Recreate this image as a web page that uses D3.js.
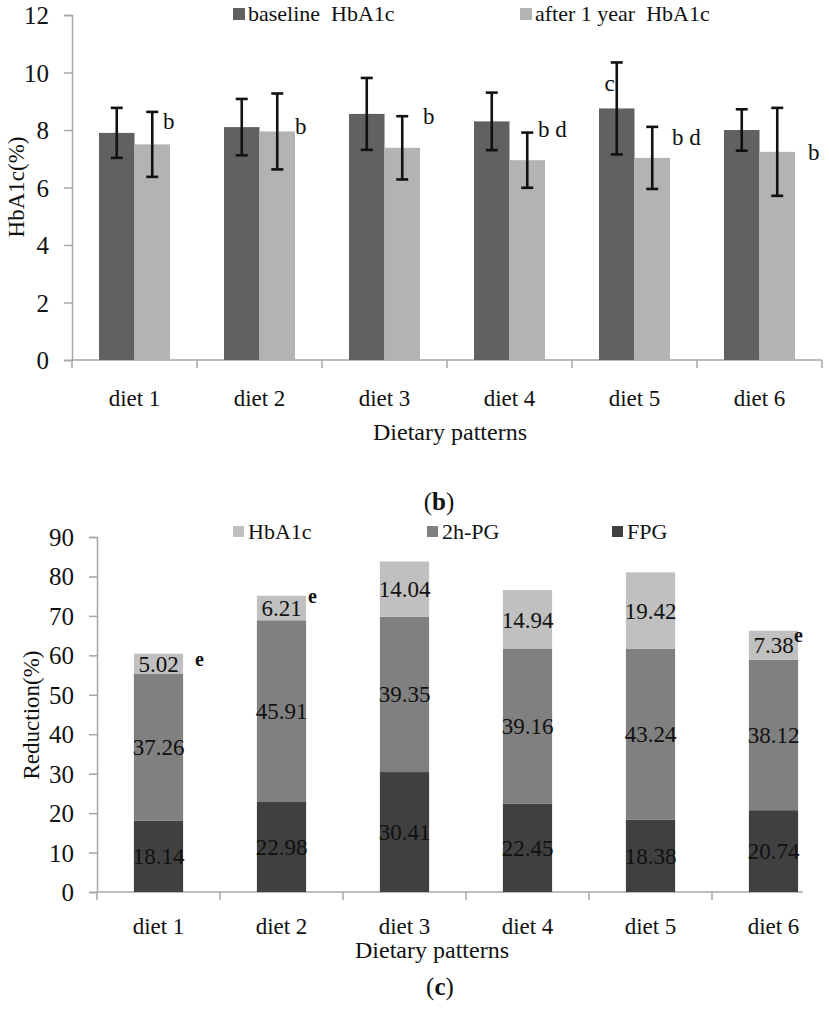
<!DOCTYPE html>
<html>
<head>
<meta charset="utf-8">
<script src="https://cdn.jsdelivr.net/npm/d3@7"></script>
<style>
  body { margin: 0; background: #fff; }
  text { font-family: "Liberation Serif", "Times New Roman", serif; fill: #111; white-space: pre; }
</style>
</head>
<body>
<div class="canvas"></div>
<script>
// ---- data (b): HbA1c before / after ----
const diets = ['diet 1', 'diet 2', 'diet 3', 'diet 4', 'diet 5', 'diet 6']
const baseline = [7.9, 8.1, 8.56, 8.3, 8.75, 8.0]
const baselineSd = [0.87, 0.98, 1.25, 1.0, 1.6, 0.72]
const afterYear = [7.5, 7.95, 7.38, 6.95, 7.03, 7.24]
const afterSd = [1.13, 1.32, 1.1, 0.96, 1.08, 1.53]
const afterMarks = ['b', 'b', 'b', 'b d', 'b d', 'b']
const afterMarkY = [8.28, 8.1, 8.45, 8.0, 7.75, 7.2]
const baselineMarks = ['', '', '', '', 'c', '']
const baselineMarkY = [0, 0, 0, 0, 9.6, 0]
const hbTicks = [0, 2, 4, 6, 8, 10, 12]

// ---- data (c): reduction stacks ----
const fpg = [18.14, 22.98, 30.41, 22.45, 18.38, 20.74]
const pg2h = [37.26, 45.91, 39.35, 39.16, 43.24, 38.12]
const hba1c = [5.02, 6.21, 14.04, 14.94, 19.42, 7.38]
const reductionMarks = ['e', 'e', '', '', '', 'e']
const redTicks = [0, 10, 20, 30, 40, 50, 60, 70, 80, 90]

const font = '"Liberation Serif", "Times New Roman", serif'
const axisGray = '#a6a6a6'

const svg = d3.select('.canvas')
  .append('svg')
  .attr('width', 829)
  .attr('height', 1024)

// small helper for category boundary ticks + baseline line
const drawCategoryAxis = (g, x, y0, xEnd, labelY) => {
  g.append('line')
    .attr('x1', x.range()[0]).attr('x2', xEnd)
    .attr('y1', y0).attr('y2', y0)
    .attr('stroke', axisGray).attr('stroke-width', 1.5)

  const bounds = diets.map(d => x(d)).concat([x.range()[1]]).filter(v => v <= xEnd + 1)
  g.selectAll('line.ctick')
    .data(bounds)
    .enter().append('line')
      .attr('class', 'ctick')
      .attr('x1', d => d).attr('x2', d => d)
      .attr('y1', y0).attr('y2', y0 + 8)
      .attr('stroke', axisGray).attr('stroke-width', 1.5)

  g.selectAll('text.clabel')
    .data(diets)
    .enter().append('text')
      .attr('class', 'clabel')
      .attr('x', d => x(d) + x.bandwidth() / 2)
      .attr('y', labelY)
      .attr('text-anchor', 'middle')
      .attr('font-size', 23)
      .text(d => d)
}

const drawValueAxis = (g, y, ticks, x0) => {
  const axis = d3.axisLeft(y)
    .tickValues(ticks)
    .tickSize(8)
    .tickPadding(15)
    .tickFormat(d3.format('d'))
  const a = g.append('g')
    .attr('transform', `translate(${x0}, 0)`)
    .call(axis)
  a.select('.domain').attr('stroke', axisGray).attr('stroke-width', 1.5)
  a.selectAll('.tick line').attr('stroke', axisGray).attr('stroke-width', 1.5)
  a.selectAll('.tick text')
    .attr('font-family', font)
    .attr('font-size', 25)
    .attr('fill', '#111')
    .attr('dy', '0.34em')
}

// ================= chart (b) =================
const chartB = svg.append('g')

const xB = d3.scaleBand().domain(diets).range([72, 822]).padding(0)
const yB = d3.scaleLinear().domain([0, 12]).range([360, 15])
const barW = xB.bandwidth() * 0.284

drawValueAxis(chartB, yB, hbTicks, 72)
drawCategoryAxis(chartB, xB, 360, 822, 406)

const seriesB = [
  { name: 'baseline  HbA1c', vals: baseline, sd: baselineSd, color: '#616161', off: -1 },
  { name: 'after 1 year  HbA1c', vals: afterYear, sd: afterSd, color: '#b3b3b3', off: 0 }
]

seriesB.forEach(s => {
  const cx = i => xB(diets[i]) + xB.bandwidth() / 2 + s.off * barW
  chartB.selectAll(null)
    .data(s.vals)
    .enter().append('rect')
      .attr('x', (d, i) => cx(i))
      .attr('y', d => yB(d))
      .attr('width', barW)
      .attr('height', d => yB(0) - yB(d))
      .attr('fill', s.color)

  // error bars
  const eb = chartB.selectAll(null)
    .data(s.vals)
    .enter().append('g')
      .attr('stroke', '#111')
      .attr('stroke-width', 2.6)
  eb.append('line')
    .attr('x1', (d, i) => cx(i) + barW / 2).attr('x2', (d, i) => cx(i) + barW / 2)
    .attr('y1', (d, i) => yB(d + s.sd[i])).attr('y2', (d, i) => yB(d - s.sd[i]))
  ;[1, -1].forEach(sign => {
    eb.append('line')
      .attr('x1', (d, i) => cx(i) + barW / 2 - 6).attr('x2', (d, i) => cx(i) + barW / 2 + 6)
      .attr('y1', (d, i) => yB(d + sign * s.sd[i])).attr('y2', (d, i) => yB(d + sign * s.sd[i]))
  })
})

// significance letters
const afterDx = [-7, 0, 3, -7, 2, 13]
chartB.selectAll(null)
  .data(afterMarks)
  .enter().append('text')
    .attr('x', (d, i) => xB(diets[i]) + xB.bandwidth() / 2 + barW + afterDx[i])
    .attr('y', (d, i) => yB(afterMarkY[i]))
    .attr('dy', '0.32em')
    .attr('font-size', 23)
    .text(d => d)

chartB.selectAll(null)
  .data(baselineMarks)
  .enter().append('text')
    .attr('x', (d, i) => xB(diets[i]) + xB.bandwidth() / 2 - barW / 2 - 2)
    .attr('y', (d, i) => yB(baselineMarkY[i]))
    .attr('dy', '0.32em')
    .attr('text-anchor', 'end')
    .attr('font-size', 23)
    .text(d => d)

// legend (b)
const legB = chartB.selectAll('g.leg')
  .data(seriesB)
  .enter().append('g')
    .attr('class', 'leg')
    .attr('transform', (d, i) => `translate(${i === 0 ? 233 : 520}, 8)`)
legB.append('rect').attr('width', 12).attr('height', 12).attr('fill', d => d.color)
legB.append('text').attr('x', 15).attr('y', 13).attr('font-size', 22).text(d => d.name)

chartB.append('text')
  .attr('transform', 'translate(24, 187) rotate(-90)')
  .attr('text-anchor', 'middle')
  .attr('font-size', 23)
  .text('HbA1c(%)')

chartB.append('text')
  .attr('x', 450).attr('y', 440)
  .attr('text-anchor', 'middle')
  .attr('font-size', 24)
  .text('Dietary patterns')

const capB = chartB.append('text').attr('x', 439).attr('y', 510).attr('text-anchor', 'middle').attr('font-size', 25)
capB.append('tspan').text('(')
capB.append('tspan').attr('font-weight', 'bold').text('b')
capB.append('tspan').text(')')

// ================= chart (c) =================
const chartC = svg.append('g')

const xC = d3.scaleBand().domain(diets).range([97, 835]).padding(0)
const yC = d3.scaleLinear().domain([0, 90]).range([892, 537])
const barC = xC.bandwidth() * 0.4

drawValueAxis(chartC, yC, redTicks, 97)
drawCategoryAxis(chartC, xC, 892, 803, 934)

const keys = ['FPG', '2h-PG', 'HbA1c']
const colorC = d3.scaleOrdinal().domain(keys).range(['#404040', '#808080', '#c0c0c0'])
const table = diets.map((d, i) => ({ diet: d, 'FPG': fpg[i], '2h-PG': pg2h[i], 'HbA1c': hba1c[i] }))
const stacked = d3.stack().keys(keys)(table)

const layers = chartC.selectAll('g.layer')
  .data(stacked)
  .enter().append('g')
    .attr('class', 'layer')
    .attr('fill', d => colorC(d.key))

layers.selectAll('rect')
  .data(d => d)
  .enter().append('rect')
    .attr('x', d => xC(d.data.diet) + (xC.bandwidth() - barC) / 2)
    .attr('y', d => yC(d[1]))
    .attr('width', barC)
    .attr('height', d => yC(d[0]) - yC(d[1]))

stacked.forEach(layer => {
  chartC.selectAll(null)
    .data(layer)
    .enter().append('text')
      .attr('x', d => xC(d.data.diet) + xC.bandwidth() / 2)
      .attr('y', d => yC((d[0] + d[1]) / 2))
      .attr('dy', '0.35em')
      .attr('text-anchor', 'middle')
      .attr('font-size', 23)
      .text(d => d.data[layer.key].toFixed(2))
})

// "e" marks beside the top segment
const eDx = [12, 2, 0, 0, 0, -4]
const eDy = [-5, -12, 0, 0, 0, -10]
const topLayer = stacked[stacked.length - 1]
chartC.selectAll(null)
  .data(reductionMarks)
  .enter().append('text')
    .attr('x', (d, i) => xC(diets[i]) + (xC.bandwidth() + barC) / 2 + eDx[i])
    .attr('y', (d, i) => yC((topLayer[i][0] + topLayer[i][1]) / 2) + eDy[i])
    .attr('dy', '0.35em')
    .attr('font-size', 20)
    .attr('font-weight', 'bold')
    .text(d => d)

// legend (c)
const legC = chartC.selectAll('g.legc')
  .data(keys.slice().reverse())
  .enter().append('g')
    .attr('class', 'legc')
    .attr('transform', (d, i) => `translate(${[233, 427, 612][i]}, 526)`)
legC.append('rect').attr('width', 11).attr('height', 11).attr('fill', d => colorC(d))
legC.append('text').attr('x', 15).attr('y', 13).attr('font-size', 22).text(d => d)

chartC.append('text')
  .attr('transform', 'translate(39, 715) rotate(-90)')
  .attr('text-anchor', 'middle')
  .attr('font-size', 23)
  .text('Reduction(%)')

chartC.append('text')
  .attr('x', 432).attr('y', 958)
  .attr('text-anchor', 'middle')
  .attr('font-size', 24)
  .text('Dietary patterns')

const capC = chartC.append('text').attr('x', 440).attr('y', 995).attr('text-anchor', 'middle').attr('font-size', 25)
capC.append('tspan').text('(')
capC.append('tspan').attr('font-weight', 'bold').text('c')
capC.append('tspan').text(')')
</script>
</body>
</html>
